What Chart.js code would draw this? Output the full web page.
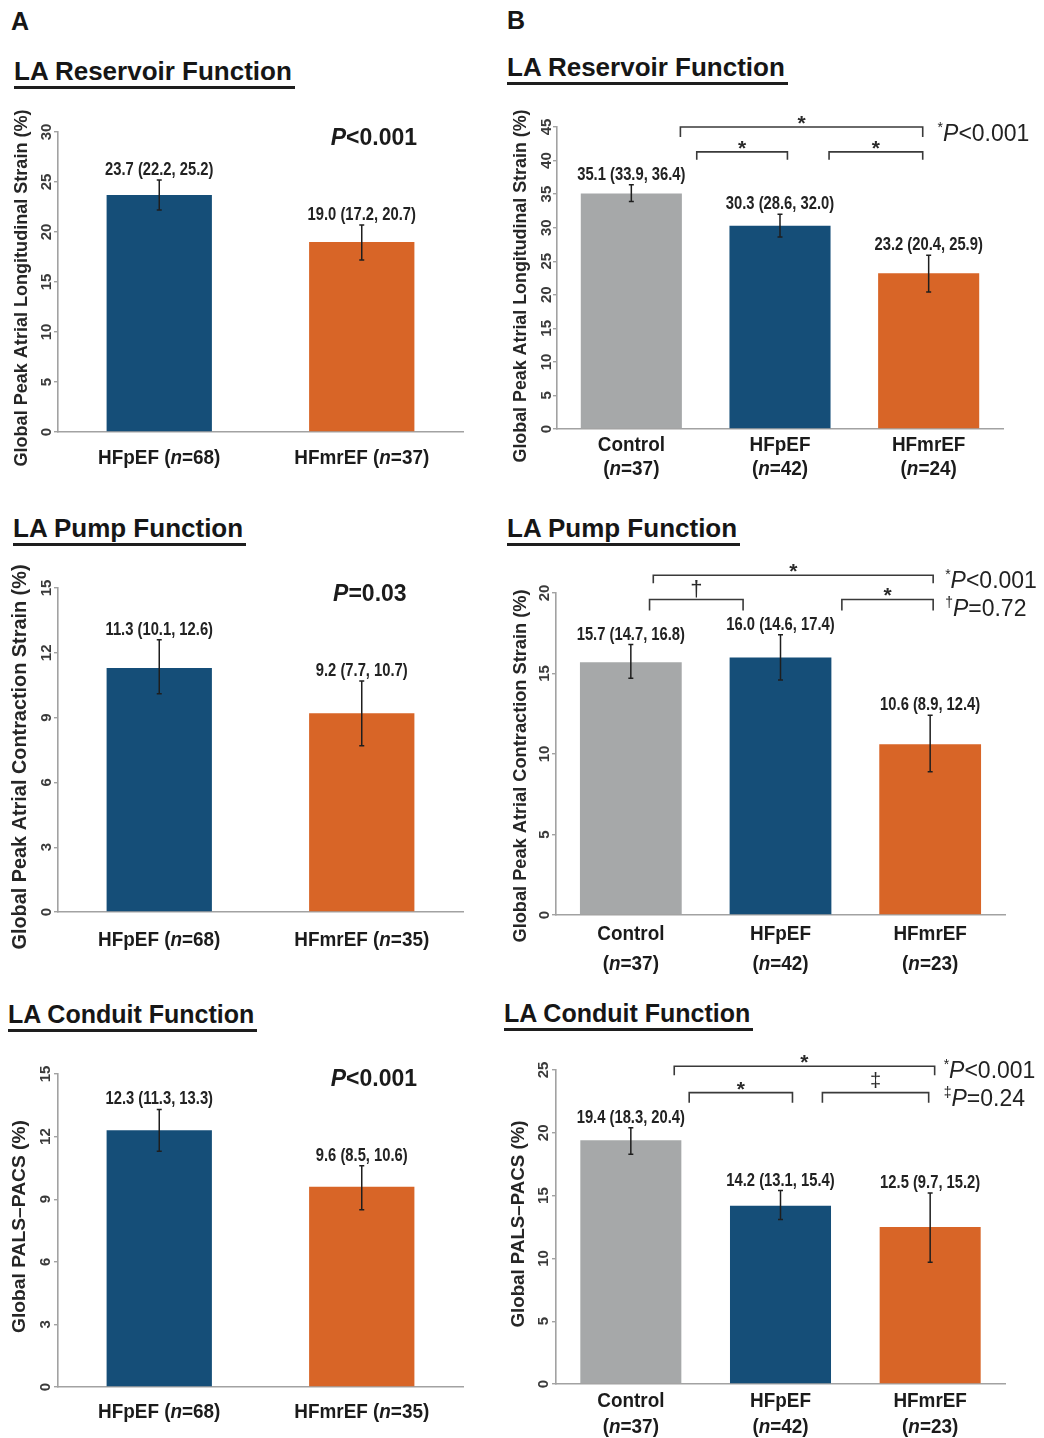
<!DOCTYPE html>
<html><head><meta charset="utf-8">
<script src="https://cdn.jsdelivr.net/npm/chart.js@4.4.1/dist/chart.umd.min.js"></script>
<style>
html,body{margin:0;padding:0;background:#fff;}
#wrap{position:relative;width:1044px;height:1438px;overflow:hidden;background:#fff;}
#wrap canvas{position:absolute;}
.ttl{position:absolute;font-family:"Liberation Sans",Arial,Helvetica,sans-serif;font-weight:bold;line-height:1;white-space:nowrap;color:#161616;}
.ul{position:absolute;height:3px;background:#1e1e1e;}
</style></head><body><div id="wrap"></div>
<script>
// ---------------- DATA ----------------
const categoriesA = ['HFpEF', 'HFmrEF'];
const categoriesB = ['Control', 'HFpEF', 'HFmrEF'];

const nReservoirA = [68, 37];
const nPumpA = [68, 35];
const nConduitA = [68, 35];
const nReservoirB = [37, 42, 24];
const nPumpB = [37, 42, 23];
const nConduitB = [37, 42, 23];

const reservoirA = [23.7, 19.0];
const reservoirALow = [22.2, 17.2];
const reservoirAHigh = [25.2, 20.7];
const pumpA = [11.3, 9.2];
const pumpALow = [10.1, 7.7];
const pumpAHigh = [12.6, 10.7];
const conduitA = [12.3, 9.6];
const conduitALow = [11.3, 8.5];
const conduitAHigh = [13.3, 10.6];

const reservoirB = [35.1, 30.3, 23.2];
const reservoirBLow = [33.9, 28.6, 20.4];
const reservoirBHigh = [36.4, 32.0, 25.9];
const pumpB = [15.7, 16.0, 10.6];
const pumpBLow = [14.7, 14.6, 8.9];
const pumpBHigh = [16.8, 17.4, 12.4];
const conduitB = [19.4, 14.2, 12.5];
const conduitBLow = [18.3, 13.1, 9.7];
const conduitBHigh = [20.4, 15.4, 15.2];

const ticksReservoirA = [0, 5, 10, 15, 20, 25, 30];
const ticksPumpA = [0, 3, 6, 9, 12, 15];
const ticksConduitA = [0, 3, 6, 9, 12, 15];
const ticksReservoirB = [0, 5, 10, 15, 20, 25, 30, 35, 40, 45];
const ticksPumpB = [0, 5, 10, 15, 20];
const ticksConduitB = [0, 5, 10, 15, 20, 25];

const pValuesA = ['<0.001', '=0.03', '<0.001'];
const sigReservoirB = [{ mark: '*', p: '<0.001' }];
const sigPumpB = [{ mark: '*', p: '<0.001' }, { mark: '\u2020', p: '=0.72' }];
const sigConduitB = [{ mark: '*', p: '<0.001' }, { mark: '\u2021', p: '=0.24' }];

// ---------------- STYLE ----------------
const FF = '"Liberation Sans", Arial, Helvetica, sans-serif';
const TXT = '#1b1b1b';
const BLUE = '#154e78', ORANGE = '#d86527', GREY = '#a6a8a9';
const AXIS = '#a2a2a2';

function drawRich(ctx, segs, x, y, align, sx, color) {
  ctx.save();
  ctx.fillStyle = color || TXT;
  ctx.textBaseline = 'alphabetic';
  ctx.textAlign = 'left';
  let total = 0;
  for (const s of segs) { ctx.font = s.font; s._w = ctx.measureText(s.t).width * sx; total += s._w; }
  let cx = align === 'center' ? x - total / 2 : (align === 'right' ? x - total : x);
  for (const s of segs) {
    ctx.save(); ctx.translate(cx, y + (s.dy || 0)); ctx.scale(sx, 1);
    ctx.font = s.font; ctx.fillText(s.t, 0, 0); ctx.restore();
    cx += s._w;
  }
  ctx.restore();
}

const decor = {
  id: 'decor',
  afterDatasetsDraw(chart, args, o) {
    const ctx = chart.ctx, xs = chart.scales.x, ys = chart.scales.y, ca = chart.chartArea;
    const ds = chart.data.datasets[0];
    const meta = chart.getDatasetMeta(0);
    const step = xs.getPixelForValue(1) - xs.getPixelForValue(0);
    const xAt = f => xs.getPixelForValue(0) + f * step;
    ctx.save();
    // rotated y tick labels
    ys.ticks.forEach(t => {
      const py = ys.getPixelForValue(t.value);
      ctx.save(); ctx.translate(ca.left + o.tickDx, py); ctx.rotate(-Math.PI / 2);
      ctx.font = 'bold 15px ' + FF; ctx.fillStyle = '#3a3a3a';
      ctx.textAlign = 'center'; ctx.textBaseline = 'middle';
      ctx.fillText(String(t.value), 0, 0); ctx.restore();
    });
    // rotated axis title
    const title = ys.options.title.text;
    ctx.save();
    ctx.translate(ca.left + o.titleDx, (ca.top + ca.bottom) / 2 + o.titleDy);
    ctx.rotate(-Math.PI / 2);
    ctx.font = 'bold ' + o.titleSize + 'px ' + FF;
    const tsx = o.titleW / ctx.measureText(title).width;
    ctx.scale(tsx, 1);
    ctx.textAlign = 'center'; ctx.textBaseline = 'middle'; ctx.fillStyle = '#262626';
    ctx.fillText(title, 0, 0);
    ctx.restore();
    // error bars + value labels
    ds.data.forEach((v, i) => {
      const px = meta.data[i].x;
      const pl = ys.getPixelForValue(ds.low[i]);
      const ph = ys.getPixelForValue(ds.high[i]);
      ctx.strokeStyle = '#1e1e1e'; ctx.lineWidth = 1.5;
      ctx.beginPath();
      ctx.moveTo(px, pl); ctx.lineTo(px, ph);
      ctx.moveTo(px - 2.5, pl); ctx.lineTo(px + 2.5, pl);
      ctx.moveTo(px - 2.5, ph); ctx.lineTo(px + 2.5, ph);
      ctx.stroke();
      const s = v.toFixed(1) + ' (' + ds.low[i].toFixed(1) + ', ' + ds.high[i].toFixed(1) + ')';
      drawRich(ctx, [{ t: s, font: 'bold 18px ' + FF }], px, ph - 5, 'center', 0.82, '#222');
    });
    // category labels
    chart.data.labels.forEach((lab, i) => {
      const px = xs.getPixelForValue(i);
      const f = 'bold 21px ' + FF, fi = 'italic bold 21px ' + FF;
      if (o.twoLine) {
        drawRich(ctx, [{ t: lab, font: f }], px, ca.bottom + o.catDy[0] + 7.5, 'center', 0.9);
        drawRich(ctx, [{ t: '(', font: f }, { t: 'n', font: fi }, { t: '=' + ds.n[i] + ')', font: f }],
          px, ca.bottom + o.catDy[1] + 7.5, 'center', 0.9);
      } else {
        drawRich(ctx, [{ t: lab + ' (', font: f }, { t: 'n', font: fi }, { t: '=' + ds.n[i] + ')', font: f }],
          px, ca.bottom + o.catDy[0] + 7.5, 'center', 0.9);
      }
    });
    // significance brackets
    (o.brackets || []).forEach(b => {
      const x1 = xAt(b.a), x2 = xAt(b.b);
      const y1 = ys.getPixelForValue(b.y), yd = ys.getPixelForValue(b.y - b.drop);
      ctx.strokeStyle = '#3a3a3a'; ctx.lineWidth = 1.6;
      ctx.beginPath();
      ctx.moveTo(x1, yd); ctx.lineTo(x1, y1); ctx.lineTo(x2, y1); ctx.lineTo(x2, yd);
      ctx.stroke();
      const mf = b.font ? b.font + ' ' + FF : 'bold 21px ' + FF;
      drawRich(ctx, [{ t: b.mark, font: mf }], (x1 + x2) / 2, y1 + (b.dy === undefined ? 3 : b.dy), 'center', 1, '#2a2a2a');
    });
    // P text (panel A)
    if (o.pText) {
      drawRich(ctx, [{ t: 'P', font: 'italic bold 23px ' + FF }, { t: o.pText.p, font: 'bold 23px ' + FF }],
        xAt(o.pText.xi), ys.getPixelForValue(o.pText.yv), 'center', 1, '#1b1b1b');
    }
    // legend (panel B)
    if (o.legend) {
      o.legend.items.forEach((it, k) => {
        drawRich(ctx, [
          { t: it.mark, font: '14px ' + FF, dy: -9 },
          { t: 'P', font: 'italic 23px ' + FF },
          { t: it.p, font: '23px ' + FF }
        ], xAt(o.legend.xi), ys.getPixelForValue(o.legend.yv[k]), 'left', 1, '#222');
      });
    }
    ctx.restore();
  }
};

const wrap = document.getElementById('wrap');

function makePanel(p) {
  const cv = document.createElement('canvas');
  cv.width = p.rect.w; cv.height = p.rect.h;
  cv.style.left = p.rect.x + 'px'; cv.style.top = p.rect.y + 'px';
  cv.style.width = p.rect.w + 'px'; cv.style.height = p.rect.h + 'px';
  wrap.appendChild(cv);
  const yAxisW = p.area.l - p.rect.x;
  const xAxisH = p.rect.y + p.rect.h - p.area.b;
  new Chart(cv, {
    type: 'bar',
    data: {
      labels: p.categories,
      datasets: [{
        data: p.values, low: p.low, high: p.high, n: p.n,
        backgroundColor: p.colors, borderWidth: 0,
        barPercentage: p.barPct, categoryPercentage: 1
      }]
    },
    options: {
      responsive: false, animation: false, devicePixelRatio: 1,
      layout: { padding: { left: 0, top: p.area.t - p.rect.y, right: p.rect.x + p.rect.w - p.area.r, bottom: 0 } },
      plugins: { legend: { display: false }, tooltip: { enabled: false }, decor: p.decor },
      scales: {
        x: {
          ticks: { display: false }, grid: { display: false },
          border: { display: true, color: AXIS, width: 1.6 },
          afterFit: s => { s.height = xAxisH; }
        },
        y: {
          min: p.ticks[0], max: p.ticks[p.ticks.length - 1],
          ticks: { display: false, stepSize: p.ticks[1] - p.ticks[0] },
          grid: { display: true, drawOnChartArea: false, drawTicks: true, tickLength: 4, color: AXIS, lineWidth: 1.4 },
          border: { display: true, color: AXIS, width: 1.6 },
          title: { display: false, text: p.yTitle },
          afterFit: s => { s.width = yAxisW; }
        }
      }
    },
    plugins: [decor]
  });
}

const colA = [BLUE, ORANGE], colB = [GREY, BLUE, ORANGE];

makePanel({
  rect: { x: 0, y: 95, w: 500, h: 395 }, area: { l: 58, t: 132, r: 463, b: 432 },
  categories: categoriesA, n: nReservoirA, values: reservoirA, low: reservoirALow, high: reservoirAHigh,
  ticks: ticksReservoirA, colors: colA, barPct: 0.52,
  yTitle: 'Global Peak Atrial Longitudinal Strain (%)',
  decor: { tickDx: -11, titleDx: -36, titleDy: 6, titleSize: 18, titleW: 357, catDy: [24],
    pText: { p: pValuesA[0], xi: 1.06, yv: 28.7 } }
});
makePanel({
  rect: { x: 0, y: 550, w: 500, h: 425 }, area: { l: 58, t: 588, r: 463, b: 912 },
  categories: categoriesA, n: nPumpA, values: pumpA, low: pumpALow, high: pumpAHigh,
  ticks: ticksPumpA, colors: colA, barPct: 0.52,
  yTitle: 'Global Peak Atrial Contraction Strain (%)',
  decor: { tickDx: -11, titleDx: -38, titleDy: 7, titleSize: 20, titleW: 385, catDy: [26],
    pText: { p: pValuesA[1], xi: 1.04, yv: 14.4 } }
});
makePanel({
  rect: { x: 0, y: 1040, w: 500, h: 398 }, area: { l: 58, t: 1074, r: 463, b: 1387 },
  categories: categoriesA, n: nConduitA, values: conduitA, low: conduitALow, high: conduitAHigh,
  ticks: ticksConduitA, colors: colA, barPct: 0.52,
  yTitle: 'Global PALS\u2013PACS (%)',
  decor: { tickDx: -12, titleDx: -38, titleDy: -4, titleSize: 19, titleW: 213, catDy: [23],
    pText: { p: pValuesA[2], xi: 1.06, yv: 14.42 } }
});
makePanel({
  rect: { x: 500, y: 95, w: 544, h: 395 }, area: { l: 557, t: 127, r: 1003, b: 429 },
  categories: categoriesB, n: nReservoirB, values: reservoirB, low: reservoirBLow, high: reservoirBHigh,
  ticks: ticksReservoirB, colors: colB, barPct: 0.68,
  yTitle: 'Global Peak Atrial Longitudinal Strain (%)',
  decor: { tickDx: -10, titleDx: -35.5, titleDy: 8, titleSize: 18, titleW: 353, twoLine: true, catDy: [14, 38],
    brackets: [
      { a: 0.33, b: 1.96, y: 45, drop: 1.49, mark: sigReservoirB[0].mark },
      { a: 0.44, b: 1.05, y: 41.3, drop: 1.19, mark: sigReservoirB[0].mark },
      { a: 1.33, b: 1.96, y: 41.3, drop: 1.19, mark: sigReservoirB[0].mark }
    ],
    legend: { items: sigReservoirB, xi: 2.06, yv: [42.9] } }
});
makePanel({
  rect: { x: 500, y: 550, w: 544, h: 425 }, area: { l: 556, t: 593, r: 1005, b: 915 },
  categories: categoriesB, n: nPumpB, values: pumpB, low: pumpBLow, high: pumpBHigh,
  ticks: ticksPumpB, colors: colB, barPct: 0.68,
  yTitle: 'Global Peak Atrial Contraction Strain (%)',
  decor: { tickDx: -11, titleDx: -35, titleDy: 12, titleSize: 18, titleW: 353, twoLine: true, catDy: [17, 47],
    brackets: [
      { a: 0.15, b: 2.02, y: 21.1, drop: 0.5, mark: sigPumpB[0].mark },
      { a: 0.125, b: 0.75, y: 19.6, drop: 0.68, mark: sigPumpB[1].mark, font: '22px', dy: -3 },
      { a: 1.41, b: 2.02, y: 19.6, drop: 0.68, mark: sigPumpB[0].mark }
    ],
    legend: { items: sigPumpB, xi: 2.10, yv: [20.3, 18.57] } }
});
makePanel({
  rect: { x: 500, y: 1035, w: 544, h: 403 }, area: { l: 556, t: 1070, r: 1005, b: 1384 },
  categories: categoriesB, n: nConduitB, values: conduitB, low: conduitBLow, high: conduitBHigh,
  ticks: ticksConduitB, colors: colB, barPct: 0.675,
  yTitle: 'Global PALS\u2013PACS (%)',
  decor: { tickDx: -12, titleDx: -37, titleDy: -3, titleSize: 18, titleW: 207, twoLine: true, catDy: [15, 41],
    brackets: [
      { a: 0.29, b: 2.03, y: 25.3, drop: 0.72, mark: sigConduitB[0].mark },
      { a: 0.39, b: 1.08, y: 23.2, drop: 0.8, mark: sigConduitB[0].mark },
      { a: 1.28, b: 1.99, y: 23.2, drop: 0.8, mark: sigConduitB[1].mark, font: '20px', dy: -6 }
    ],
    legend: { items: sigConduitB, xi: 2.09, yv: [24.36, 22.13] } }
});

// ---------------- TITLES ----------------
const titles = [
  { t: 'A', x: 11, base: 30, size: 25 },
  { t: 'B', x: 507, base: 29, size: 25 },
  { t: 'LA Reservoir Function', x: 14, base: 80, size: 26, ul: true },
  { t: 'LA Reservoir Function', x: 507, base: 76, size: 26, ul: true },
  { t: 'LA Pump Function', x: 13, base: 537, size: 26, ul: true },
  { t: 'LA Pump Function', x: 507, base: 537, size: 26, ul: true },
  { t: 'LA Conduit Function', x: 8, base: 1023, size: 25, ul: true },
  { t: 'LA Conduit Function', x: 504, base: 1022, size: 25, ul: true }
];
titles.forEach(d => {
  const el = document.createElement('div');
  el.className = 'ttl';
  el.textContent = d.t;
  el.style.fontSize = d.size + 'px';
  el.style.left = d.x + 'px';
  el.style.top = (d.base - 0.8465 * d.size) + 'px';
  wrap.appendChild(el);
  if (d.ul) {
    const u = document.createElement('div');
    u.className = 'ul';
    u.style.left = d.x + 'px';
    u.style.top = (d.base + 6) + 'px';
    u.style.width = (el.offsetWidth + 3) + 'px';
    wrap.appendChild(u);
  }
});
</script></body></html>
